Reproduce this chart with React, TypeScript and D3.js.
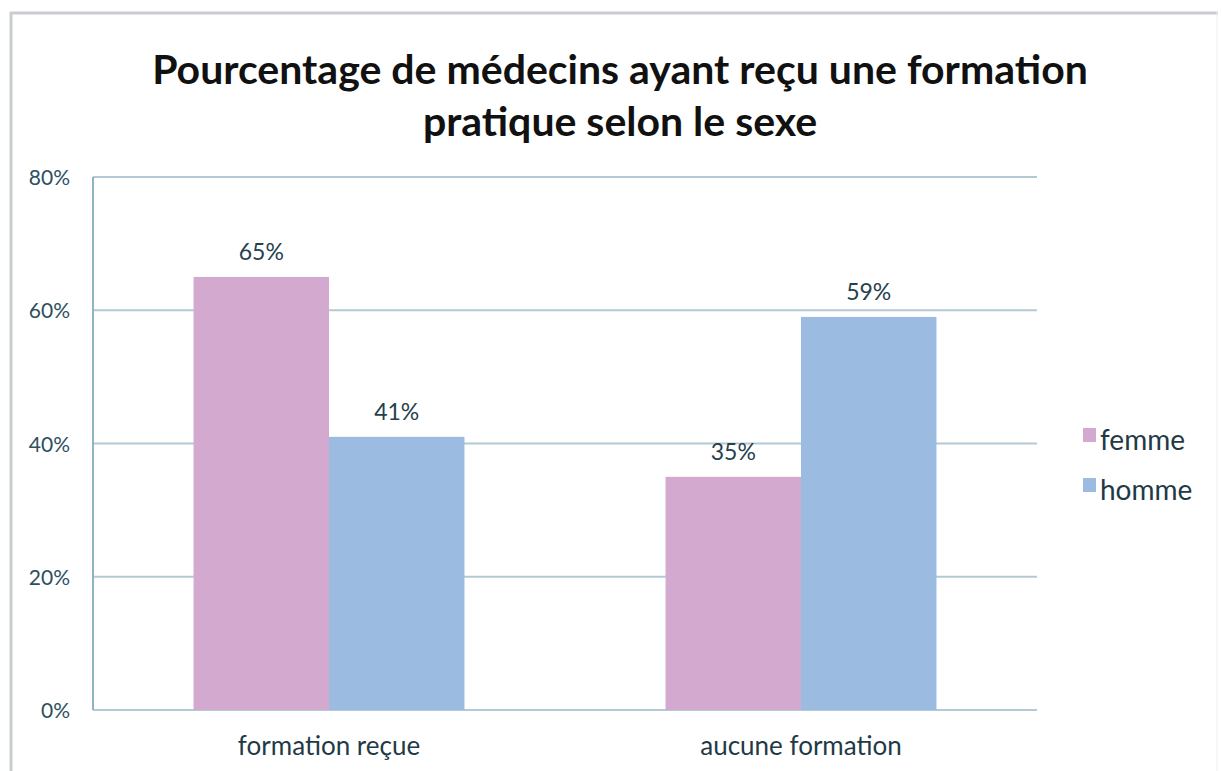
import React from "react";
import * as d3 from "d3";

const categories = ["formation reçue", "aucune formation"];
const seriesNames = ["femme", "homme"];
const femmeValues = [65, 35];
const hommeValues = [41, 59];
const yTicks = [0, 20, 40, 60, 80];
const colors = ["#d4a9cf", "#9bbbe1"];
const titleLines = ["Pourcentage de médecins ayant reçu une formation", "pratique selon le sexe"];

const W = 1221;
const H = 771;
const FONT = "Lato, 'Open Sans', sans-serif";

export default function App() {
  const left = 93, right = 1037, top = 177, bottom = 710;
  const x0 = d3.scaleBand<string>().domain(categories).range([left, right]).paddingInner(0.426).paddingOuter(0.213);
  const x1 = d3.scaleBand<string>().domain(seriesNames).range([0, x0.bandwidth()]);
  const y = d3.scaleLinear().domain([0, 80]).range([bottom, top]);
  const series = [femmeValues, hommeValues];

  return (
    <svg width={W} height={H} style={{ position: "absolute", left: 0, top: 0, background: "#fff" }} fontFamily={FONT}>
      {/* frame */}
      <line x1={10} x2={1218} y1={13} y2={13} stroke="#c9cdd1" strokeWidth={3} />
      <line x1={11} x2={11} y1={12} y2={771} stroke="#c9cdd1" strokeWidth={3} />
      <line x1={1217} x2={1217} y1={12} y2={771} stroke="#eceef0" strokeWidth={1} />

      {/* title */}
      {titleLines.map((t, i) => (
        <text key={i} x={620} y={84 + i * 52} textAnchor="middle" fontSize={41} fontWeight={700} fill="#111">{t}</text>
      ))}

      {/* grid */}
      {yTicks.filter(v => v > 0).map(v => (
        <line key={v} x1={left} x2={right} y1={y(v)} y2={y(v)} stroke="#b3c9d5" strokeWidth={2} />
      ))}
      <line x1={left} x2={right} y1={bottom} y2={bottom} stroke="#b3c9d5" strokeWidth={2} />
      <line x1={left} x2={left} y1={top} y2={bottom} stroke="#8fb2c4" strokeWidth={2} />

      {/* y ticks labels */}
      {yTicks.map(v => (
        <text key={v} x={70} y={y(v) + 8} textAnchor="end" fontSize={21} fill="#2d5060">{v}%</text>
      ))}

      {/* bars */}
      {categories.map((c, ci) => (
        <g key={c} transform={`translate(${x0(c)},0)`}>
          {seriesNames.map((s, si) => {
            const v = series[si][ci];
            const bx = x1(s)!;
            return (
              <g key={s}>
                <rect x={bx} y={y(v)} width={x1.bandwidth()} height={y(0) - y(v)} fill={colors[si]} />
                <text x={bx + x1.bandwidth() / 2} y={y(v) - 17} textAnchor="middle" fontSize={23} fill="#26414d">{v}%</text>
              </g>
            );
          })}
        </g>
      ))}

      {/* category labels */}
      {categories.map(c => (
        <text key={c} x={x0(c)! + x0.bandwidth() / 2} y={755} textAnchor="middle" fontSize={26} fill="#1f3a46">{c}</text>
      ))}

      {/* legend */}
      {seriesNames.map((s, i) => (
        <g key={s} transform={`translate(1083,${450 + i * 50})`}>
          <rect x={0} y={-22} width={13} height={14} fill={colors[i]} />
          <text x={17} y={0} fontSize={28} fill="#1f3a46">{s}</text>
        </g>
      ))}
    </svg>
  );
}
